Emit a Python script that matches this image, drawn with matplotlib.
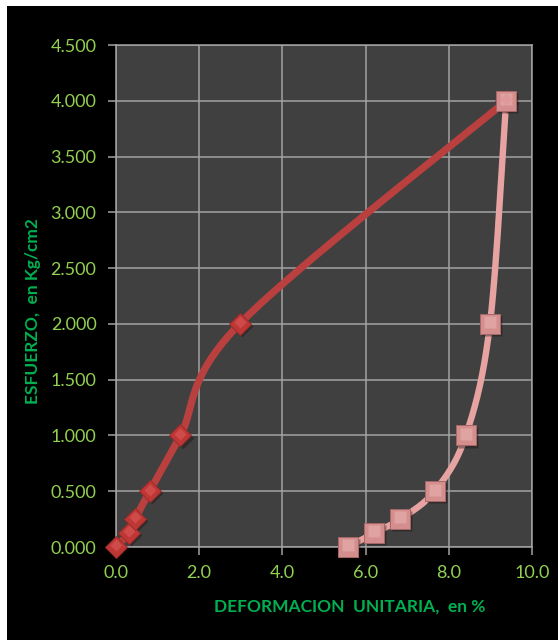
import numpy as np
import matplotlib
matplotlib.use("Agg")
import matplotlib.pyplot as plt
import matplotlib.transforms as mtransforms
from matplotlib.patches import Rectangle
from matplotlib.ticker import FixedLocator, FuncFormatter

# Stress–strain data: loading and unloading branches
carga_def = [0.0, 0.31, 0.46, 0.81, 1.55, 2.97, 9.38]
carga_esf = [0.0, 0.125, 0.25, 0.5, 1.0, 2.0, 4.0]
descarga_def = [9.38, 8.99, 8.41, 7.66, 6.83, 6.20, 5.58]
descarga_esf = [4.0, 2.0, 1.0, 0.5, 0.25, 0.125, 0.0]

x_ticks = [0, 2, 4, 6, 8, 10]
y_ticks = [0.0, 0.5, 1.0, 1.5, 2.0, 2.5, 3.0, 3.5, 4.0, 4.5]

plt.rcParams['font.family'] = ['Lato', 'DejaVu Sans']

W, H = 558, 640
fig = plt.figure(figsize=(W / 100, H / 100), dpi=100, facecolor='white')
fig.patches.append(Rectangle((7 / W, 0), 1, 1 - 6 / H, transform=fig.transFigure,
                             facecolor='black', edgecolor='none', zorder=-10))

ax = fig.add_axes([116 / W, 1 - 547 / H, (532 - 116) / W, (547 - 45) / H])
ax.set_facecolor('#404040')
ax.set_xlim(0, 10)
ax.set_ylim(0, 4.5)

grid_c = '#a3a3a3'
ax.xaxis.set_major_locator(FixedLocator(x_ticks))
ax.yaxis.set_major_locator(FixedLocator(y_ticks))
ax.xaxis.set_major_formatter(FuncFormatter(lambda v, p: f"{v:.1f}"))
ax.yaxis.set_major_formatter(FuncFormatter(lambda v, p: f"{v:.3f}"))
ax.grid(True, color=grid_c, linewidth=1.1, zorder=0)
ax.set_axisbelow(True)
for s in ax.spines.values():
    s.set_color(grid_c)
    s.set_linewidth(1.1)
ax.tick_params(axis='both', colors=grid_c, labelcolor='#92d050', labelsize=13,
               length=6, width=1.1, direction='out')
ax.tick_params(axis='y', pad=8)
ax.tick_params(axis='x', pad=7)


def smooth(xs, ys, n=40):
    """Bezier smoothing (tension 1/6) computed in screen-proportional space."""
    sx = (532 - 116) / 10.0
    sy = (547 - 45) / 4.5
    P = np.column_stack([np.asarray(xs) * sx, np.asarray(ys) * sy])
    out = []
    m = len(P)
    for i in range(m - 1):
        p0 = P[i - 1] if i > 0 else P[i]
        p1, p2 = P[i], P[i + 1]
        p3 = P[i + 2] if i + 2 < m else P[i + 1]
        c1 = p1 + (p2 - p0) / 6.0
        c2 = p2 - (p3 - p1) / 6.0
        t = np.linspace(0, 1, n)[:, None]
        seg = ((1 - t) ** 3) * p1 + 3 * ((1 - t) ** 2) * t * c1 + 3 * (1 - t) * t ** 2 * c2 + t ** 3 * p2
        out.append(seg if i == 0 else seg[1:])
    pts = np.vstack(out)
    return pts[:, 0] / sx, pts[:, 1] / sy


lx, ly = smooth(carga_def, carga_esf)
ux, uy = smooth(descarga_def, descarga_esf)

ax.plot(lx, ly, color='#b9403e', linewidth=5.2, solid_capstyle='round', zorder=3, clip_on=False)
ax.plot(ux, uy, color='#e6a3a2', linewidth=4.6, solid_capstyle='round', zorder=3, clip_on=False)

shadow = ax.transData + mtransforms.ScaledTranslation(1.5 / 72, -1.5 / 72, fig.dpi_scale_trans)
lift = ax.transData + mtransforms.ScaledTranslation(0, 1.2 / 72, fig.dpi_scale_trans)

# loading markers: shadow, body, soft upper highlight
ax.plot(carga_def, carga_esf, linestyle='none', marker='D', markersize=11,
        markerfacecolor='#1a1010', markeredgecolor='none', alpha=0.4, zorder=4,
        clip_on=False, transform=shadow)
ax.plot(carga_def, carga_esf, linestyle='none', marker='D', markersize=11,
        markerfacecolor='#bf3735', markeredgecolor='#9a2b29', markeredgewidth=0.7,
        zorder=5, clip_on=False)
ax.plot(carga_def, carga_esf, linestyle='none', marker='D', markersize=6,
        markerfacecolor='#d2514f', markeredgecolor='none', alpha=0.8, zorder=6,
        clip_on=False, transform=lift)

# unloading markers: shadow, body, soft upper highlight
ax.plot(descarga_def, descarga_esf, linestyle='none', marker='s', markersize=14,
        markerfacecolor='#1a1010', markeredgecolor='none', alpha=0.4, zorder=4,
        clip_on=False, transform=shadow)
ax.plot(descarga_def, descarga_esf, linestyle='none', marker='s', markersize=14,
        markerfacecolor='#d48e8d', markeredgecolor='#a66867', markeredgewidth=0.7,
        zorder=5, clip_on=False)
ax.plot(descarga_def, descarga_esf, linestyle='none', marker='s', markersize=8,
        markerfacecolor='#e3a9a8', markeredgecolor='none', alpha=0.8, zorder=6,
        clip_on=False, transform=lift)

fig.text(349.5 / W, 1 - 607 / H, 'DEFORMACION  UNITARIA,  en %', color='#00b050',
         fontsize=12.5, fontweight='bold', ha='center', va='center')
fig.text(33 / W, 1 - 311 / H, 'ESFUERZO,  en Kg/cm2', color='#00b050',
         fontsize=12.5, fontweight='bold', ha='center', va='center', rotation=90)

fig.savefig('out.png', dpi=100, facecolor=fig.get_facecolor())
